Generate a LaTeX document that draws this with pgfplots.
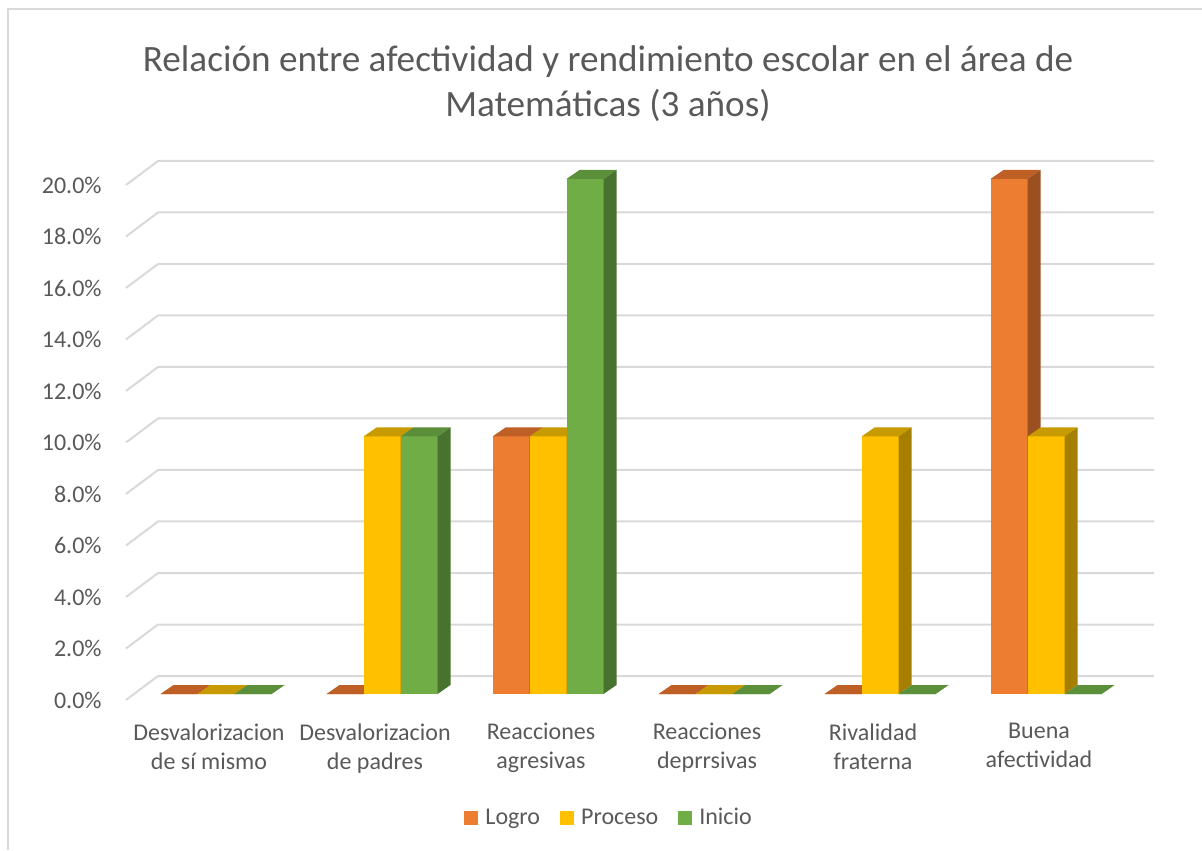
\documentclass[border=0pt]{standalone}
\usepackage{fontspec}
\setmainfont{Carlito}
\usepackage{pgfplots}
\usepackage{pgfplotstable}
\pgfplotsset{compat=1.18}

\definecolor{txt}{HTML}{595959}
\definecolor{gridc}{HTML}{D9D9D9}
\definecolor{logro}{HTML}{ED7D31}
\definecolor{logrotop}{HTML}{BE5F26}
\definecolor{logroside}{HTML}{9C4F1F}
\definecolor{proceso}{HTML}{FFC000}
\definecolor{procesotop}{HTML}{C79A00}
\definecolor{procesoside}{HTML}{A67F00}
\definecolor{inicio}{HTML}{70AD47}
\definecolor{iniciotop}{HTML}{5B8F3A}
\definecolor{inicioside}{HTML}{48732E}

\pgfdeclareplotmark{nomark}{}

% 1px = 0.5pt ; bar 37px wide, depth 13px x 9px
% the whole bar (front, top, side) is drawn at each data point,
% so that later series cover the side faces of earlier ones
\pgfplotsset{
  bar3d/.style n args={3}{
    ybar, bar width=18.5pt, bar shift=0pt, fill=none, draw=none,
    scatter, mark=nomark, point meta=y,
    visualization depends on={rawy \as \ry},
    scatter/@pre marker code/.code={
      \pgfmathsetmacro\yb{4.5-\ry*12.875}
      \pgfmathsetmacro\yf{-\ry*12.875}
      \fill[#1] (-9.25pt,0pt) rectangle (9.25pt,\yf pt);
      \fill[#2] (-9.25pt,0pt) -- (9.25pt,0pt) -- (15.75pt,4.5pt) -- (-2.75pt,4.5pt) -- cycle;
      \fill[#3] (9.25pt,0pt) -- (15.75pt,4.5pt) -- (15.75pt,\yb pt) -- (9.25pt,\yf pt) -- cycle;
    },
    scatter/@post marker code/.code={},
    legend image code/.code={\fill[#1] (0pt,-3.5pt) rectangle (7pt,3.5pt);},
  },
}

\pgfplotstableread{
x logro proceso inicio
0 0 0 0
1 0 10 10
2 10 10 20
3 0 0 0
4 0 10 0
5 20 10 0
}\datatable

\begin{document}
\begin{tikzpicture}
\useasboundingbox (0,0) rectangle (601pt,425pt);
\draw[gridc, line width=0.75pt] (4pt,0pt) -- (4pt,420.5pt) -- (601pt,420.5pt);

\node[anchor=base, text=txt, font=\fontsize{18.6}{22}\selectfont] at (304pt,389pt)
  {Relación entre afectividad y rendimiento escolar en el área de};
\node[anchor=base, text=txt, font=\fontsize{18.6}{22}\selectfont] at (304pt,366.5pt)
  {Matemáticas (3 años)};

\begin{axis}[
  at={(66.5pt,78pt)}, anchor=south west,
  scale only axis,
  width=498pt, height=257.5pt,
  xmin=-0.5, xmax=5.5,
  ymin=0, ymax=20,
  clip=false,
  axis line style={draw=none},
  major tick length=0pt,
  ytick={0,2,...,20},
  yticklabel={\pgfmathprintnumber[fixed,fixed zerofill,precision=1]{\tick}\%},
  yticklabel style={anchor=east, inner sep=0pt, xshift=-15.5pt, yshift=-3pt,
    text=txt, font=\fontsize{12}{14.5}\selectfont,
    /pgf/number format/assume math mode=true},
  xtick={0,...,5},
  xticklabels={Desvalorizacion\\de sí mismo, Desvalorizacion\\de padres,
    Reacciones\\agresivas, Reacciones\\deprrsivas, Rivalidad\\fraterna,
    Buena\\afectividad},
  xticklabel style={align=center, anchor=north, inner sep=0pt,
    xshift=-3.5pt, yshift=-14.5pt, text=txt, font=\fontsize{12}{14.5}\selectfont},
  legend columns=3,
  legend style={at={(axis description cs:0.479,-0.2408)}, anchor=center,
    draw=none, fill=none, text=txt, font=\fontsize{12}{14.5}\selectfont,
    /tikz/every odd column/.append style={column sep=1.5pt},
    /tikz/every even column/.append style={column sep=8pt}},
]

\pgfplotsinvokeforeach{0,2,...,20}{
  \draw[gridc, line width=1pt] ([xshift=-3.5pt,yshift=-3pt]axis cs:-0.5,#1)
    -- ++(16pt,12pt) -- ([xshift=12.5pt,yshift=9pt]axis cs:5.5,#1);
}

\addplot[bar3d={logro}{logrotop}{logroside}]
  table[x expr=\thisrow{x}-0.2229, y=logro]{\datatable};
\addlegendentry{Logro}
\addplot[bar3d={proceso}{procesotop}{procesoside}]
  table[x expr=\thisrow{x}, y=proceso]{\datatable};
\addlegendentry{Proceso}
\addplot[bar3d={inicio}{iniciotop}{inicioside}]
  table[x expr=\thisrow{x}+0.2229, y=inicio]{\datatable};
\addlegendentry{Inicio}

\end{axis}
\end{tikzpicture}
\end{document}
